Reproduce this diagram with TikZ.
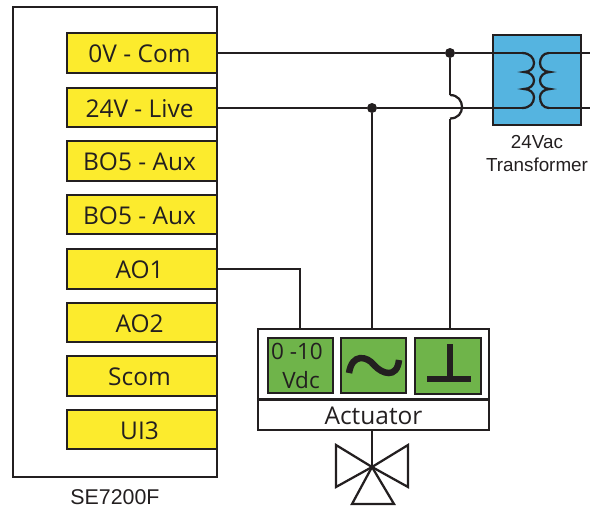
\documentclass[tikz,border=0pt]{standalone}
\usepackage{fontspec}
\setmainfont{Open Sans}
\newfontfamily\arialfont{Liberation Sans}
\definecolor{pinyellow}{HTML}{FCEB2D}
\definecolor{termgreen}{HTML}{6FB44A}
\definecolor{coilblue}{HTML}{55B4E0}
\definecolor{inkblack}{HTML}{231F20}
\tikzset{
pin/.style={draw=inkblack, line width=1.4pt, fill=pinyellow, text=inkblack, minimum width=3.75cm, minimum height=0.98cm, inner sep=0pt, text height=13.6pt, text depth=0pt, font=\fontsize{17.4}{20}\selectfont, execute at end node=\kern 3.5pt},
term/.style={draw=inkblack, line width=1.4pt, fill=termgreen, minimum width=1.63cm, minimum height=1.38cm, inner sep=0pt},
wire/.style={draw=inkblack, line width=1.6pt},
junction/.style={circle, fill=inkblack, minimum size=0.25cm, inner sep=0pt},
caption/.style={text=inkblack, inner sep=0pt, font=\arialfont\fontsize{13.4}{16}\selectfont}
}
\begin{document}
\begin{tikzpicture}[x=0.025cm,y=-0.025cm]
\useasboundingbox (0,0) rectangle (592,509);
\node[draw=inkblack, line width=1.1pt, minimum width=5.1cm, minimum height=11.75cm](ctrl) at (115,242){};
\node[caption, font=\arialfont\fontsize{15.2}{17}\selectfont](ctrlname) at (115,497){SE7200F};

\node[pin](com) at (142,53){0V - Com};
\node[pin](live) at (142,107.5){24V - Live};
\node[pin](auxA) at (142,161){BO5 - Aux};
\node[pin](auxB) at (142,214.5){BO5 - Aux};
\node[pin](aoA) at (142,269){AO1};
\node[pin](aoB) at (142,322.5){AO2};
\node[pin](scom) at (142,376){Scom};
\node[pin](ui) at (142,429.5){UI3};

\node[draw=inkblack, line width=1.4pt, fill=coilblue, minimum width=2.2cm, minimum height=2.25cm](xfmr) at (537,80){};
\node[caption, align=center](xfmrname) at (537,153.5){24Vac\\Transformer};

\node[draw=inkblack, line width=1.4pt, minimum width=5.775cm, minimum height=1.775cm](act) at (373.5,364.5){};
\node[draw=inkblack, line width=1.4pt, minimum width=5.775cm, minimum height=0.75cm, inner sep=0pt, text=inkblack, text height=13.6pt, text depth=0pt, font=\fontsize{17.4}{20}\selectfont](actname) at (373.5,415){Actuator};
\node[term](vdc) at (300.5,365.5){};
\node[term](ac) at (373.5,365.5){};
\node[term](gnd) at (448,366){};
\node[text=inkblack, inner sep=0pt, font=\fontsize{16}{20}\selectfont](vdcA) at (297,351){0 -10};
\node[text=inkblack, inner sep=0pt, font=\fontsize{16}{20}\selectfont](vdcB) at (301,380){Vdc};

\node[junction](jcom) at (450,53){};
\node[junction](jlive) at (372,108){};
\coordinate(inA) at (300,329);
\coordinate(hopT) at (450,95);
\coordinate(hopB) at (450,118.5);
\coordinate(coilAT) at (522,53);
\coordinate(coilAB) at (522,108);
\coordinate(coilBT) at (549,53);
\coordinate(coilBB) at (549,108);
\coordinate(outT) at (590,53);
\coordinate(outB) at (590,108);
\coordinate(valve) at (372,467);

\path[wire]
(com.east) edge (jcom)
(jcom) edge (coilAT)
(coilBT) edge (outT)
(live.east |- jlive) edge (jlive)
(jlive) edge (coilAB)
(coilBB) edge (outB)
(jlive) edge (jlive |- act.north)
(jcom) edge (hopT)
(hopB) edge (hopB |- act.north)
(actname.south -| valve) edge (valve)
(actname.north west) edge[line width=2pt] (actname.north east);
\draw[wire] (aoA.east) -| (inA);
\draw[wire] (hopT) .. controls (458,95) and (462,101) .. (462,107) .. controls (462,113) and (458,118.5) .. (hopB);

% coils
\draw[wire] (coilAT) .. controls (530,53) and (534,58) .. (534,63) .. controls (534,68) and (530,72) .. (524,72) .. controls (530,72) and (534,76) .. (534,80.5) .. controls (534,85) and (530,89) .. (524,89) .. controls (530,89) and (534,93) .. (534,97) .. controls (534,103) and (530,108) .. (coilAB);
\draw[wire] (coilBT) .. controls (543,53) and (540,58) .. (540,63) .. controls (540,68) and (544,72) .. (550,72) .. controls (544,72) and (540,76) .. (540,80.5) .. controls (540,85) and (544,89) .. (550,89) .. controls (544,89) and (540,93) .. (540,97) .. controls (540,103) and (543,108) .. (coilBB);

% terminal symbols
\draw[draw=inkblack, line width=4.6pt] (349,373) .. controls (352,353) and (367,356) .. (374,365) .. controls (382,374) and (397,379) .. (399,360);
\draw[draw=inkblack, line width=4.6pt] (450,344) -- (450,379);
\draw[draw=inkblack, line width=4.4pt] (427,379) -- (471,379);

% valve
\draw[wire, line join=miter] (valve) -- (336,445) -- (336,487) -- cycle;
\draw[wire, line join=miter] (valve) -- (408,445) -- (408,487) -- cycle;
\draw[wire, line join=miter] (valve) -- (352,504) -- (394,504) -- cycle;
\end{tikzpicture}
\end{document}
